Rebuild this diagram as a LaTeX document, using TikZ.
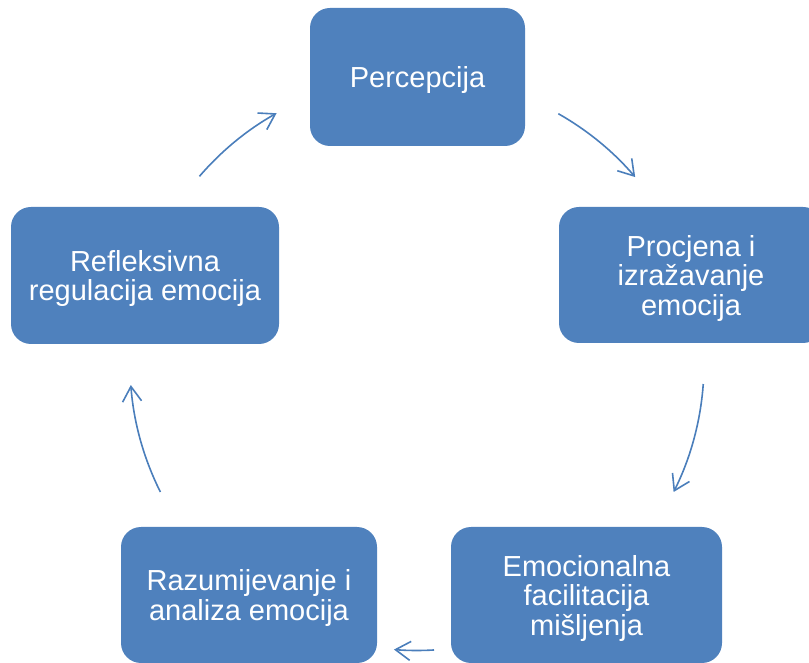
\documentclass[tikz,border=0pt]{standalone}
\usepackage{fontspec}
\setmainfont{Liberation Sans}
\usetikzlibrary{arrows.meta,calc}
\definecolor{boxblue}{HTML}{4F81BD}
\definecolor{arcblue}{HTML}{4A7EBB}
\begin{document}
\begin{tikzpicture}[x=1pt,y=1pt,
  stepbox/.style={rectangle, rounded corners=20pt, fill=boxblue, draw=none,
    text=white, align=center, inner sep=0pt, text depth=0pt,
    font=\fontsize{29}{29.5}\selectfont},
  cyclearrow/.style={draw=arcblue, line width=1.6pt,
    -{Straight Barb[length=15pt,width=19pt,line width=1.6pt]}}]
\useasboundingbox (0,0) rectangle (809,662);
\clip (0,0) rectangle (809,662);
\node[stepbox, minimum width=215pt, minimum height=138pt] (perc) at (417.5,585) {Percepcija};
\node[stepbox, minimum width=264pt, minimum height=136pt] (proc) at (691,387) {Procjena i\\izražavanje\\emocija};
\node[stepbox, minimum width=271pt, minimum height=136pt] (emoc) at (586.5,67) {Emocionalna\\facilitacija\\mišljenja};
\node[stepbox, minimum width=256pt, minimum height=136pt] (razu) at (249,67) {Razumijevanje i\\analiza emocija};
\node[stepbox, minimum width=268pt, minimum height=137pt] (refl) at (145,386.5) {Refleksivna\\regulacija emocija};
\coordinate (C) at (417,298.5);
\coordinate (s1) at ($(C)+(60.5:287pt)$);
\coordinate (s2) at ($(C)+(-4.1:287pt)$);
\coordinate (s3) at ($(C)+(-86.6:287pt)$);
\coordinate (s4) at ($(C)+(206.6:287pt)$);
\coordinate (s5) at ($(C)+(139.3:287pt)$);
\draw[cyclearrow] (s1) arc[start angle=60.5, end angle=40.5, radius=287pt];
\draw[cyclearrow] (s2) arc[start angle=-4.1, end angle=-26.6, radius=287pt];
\draw[cyclearrow] (s3) arc[start angle=-86.6, end angle=-94.6, radius=287pt];
\draw[cyclearrow] (s4) arc[start angle=206.6, end angle=184.3, radius=287pt];
\draw[cyclearrow] (s5) arc[start angle=139.3, end angle=119.3, radius=287pt];
\end{tikzpicture}
\end{document}
